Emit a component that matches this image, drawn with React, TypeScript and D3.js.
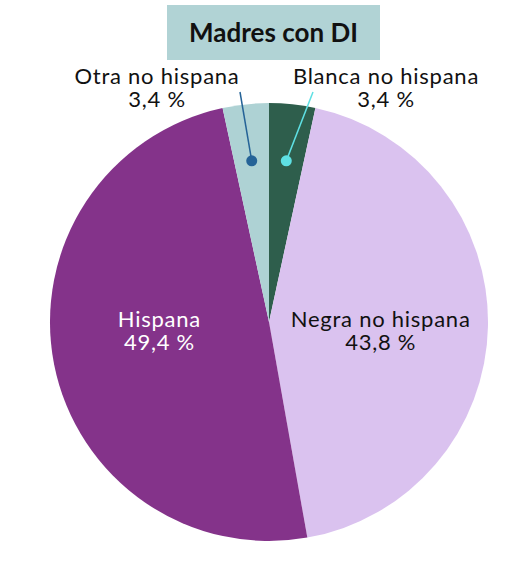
import React from 'react';
import * as d3 from 'd3';

// datos del gráfico (orden horario desde las 12)
const categories = ['Blanca no hispana', 'Negra no hispana', 'Hispana', 'Otra no hispana'];
const values = [3.4, 43.8, 49.4, 3.4];
const colors = ['#2e5e4c', '#dac2ef', '#84338a', '#aed2d4'];
const title = 'Madres con DI';

const WIDTH = 528;
const HEIGHT = 563;
const FONT = 'Lato, "Noto Sans", sans-serif';

const fmt = (v: number) => `${v.toFixed(1).replace('.', ',')} %`;

export default function App() {
  const cx = 269;
  const cy = 322;
  const radius = 219;

  const pie = d3.pie<number>().sort(null).value(d => d);
  const arcs = pie(values);
  const arc = d3.arc<d3.PieArcDatum<number>>().innerRadius(0).outerRadius(radius);
  const dotArc = d3.arc<d3.PieArcDatum<number>>().innerRadius(radius * 0.74).outerRadius(radius * 0.74);
  const inArc = d3.arc<d3.PieArcDatum<number>>().innerRadius(radius * 0.51).outerRadius(radius * 0.51);

  // etiquetas internas para sectores grandes, llamadas para los pequeños
  const callout: Record<number, { lineEnd: [number, number]; text: [number, number]; dot: string }> = {
    0: { lineEnd: [44, -230], text: [117, -238], dot: '#5ee0e3' },
    3: { lineEnd: [-29, -230], text: [-112, -238], dot: '#256397' },
  };

  const labelProps = { fontSize: 22, letterSpacing: 0.75, textAnchor: 'middle' as const };

  return (
    <svg
      width={WIDTH}
      height={HEIGHT}
      style={{ position: 'absolute', left: 0, top: 0, background: '#fff' }}
      fontFamily={FONT}
    >
      {/* Título */}
      <rect x={167} y={5} width={213} height={55} fill="#b1d3d5" />
      <text x={273.5} y={42} textAnchor="middle" fontWeight="bold" fontSize={26} fill="#111">
        {title}
      </text>

      <g transform={`translate(${cx},${cy})`}>
        {arcs.map((a, i) => (
          <path key={categories[i]} d={arc(a) ?? ''} fill={colors[i]} />
        ))}

        {arcs.map((a, i) => {
          const c = callout[i];
          if (c) {
            const [dx, dy] = dotArc.centroid(a);
            return (
              <g key={`lbl-${i}`}>
                <line x1={dx} y1={dy} x2={c.lineEnd[0]} y2={c.lineEnd[1]} stroke={c.dot} strokeWidth={1.5} />
                <circle cx={dx} cy={dy} r={5.5} fill={c.dot} />
                <text x={c.text[0]} y={c.text[1]} {...labelProps} fill="#111">
                  <tspan x={c.text[0]}>{categories[i]}</tspan>
                  <tspan x={c.text[0]} dy={23}>{fmt(values[i])}</tspan>
                </text>
              </g>
            );
          }
          const [lx] = inArc.centroid(a);
          const fill = i === 2 ? '#fff' : '#111';
          return (
            <text key={`lbl-${i}`} x={lx} y={5} {...labelProps} fill={fill}>
              <tspan x={lx}>{categories[i]}</tspan>
              <tspan x={lx} dy={23}>{fmt(values[i])}</tspan>
            </text>
          );
        })}
      </g>
    </svg>
  );
}
